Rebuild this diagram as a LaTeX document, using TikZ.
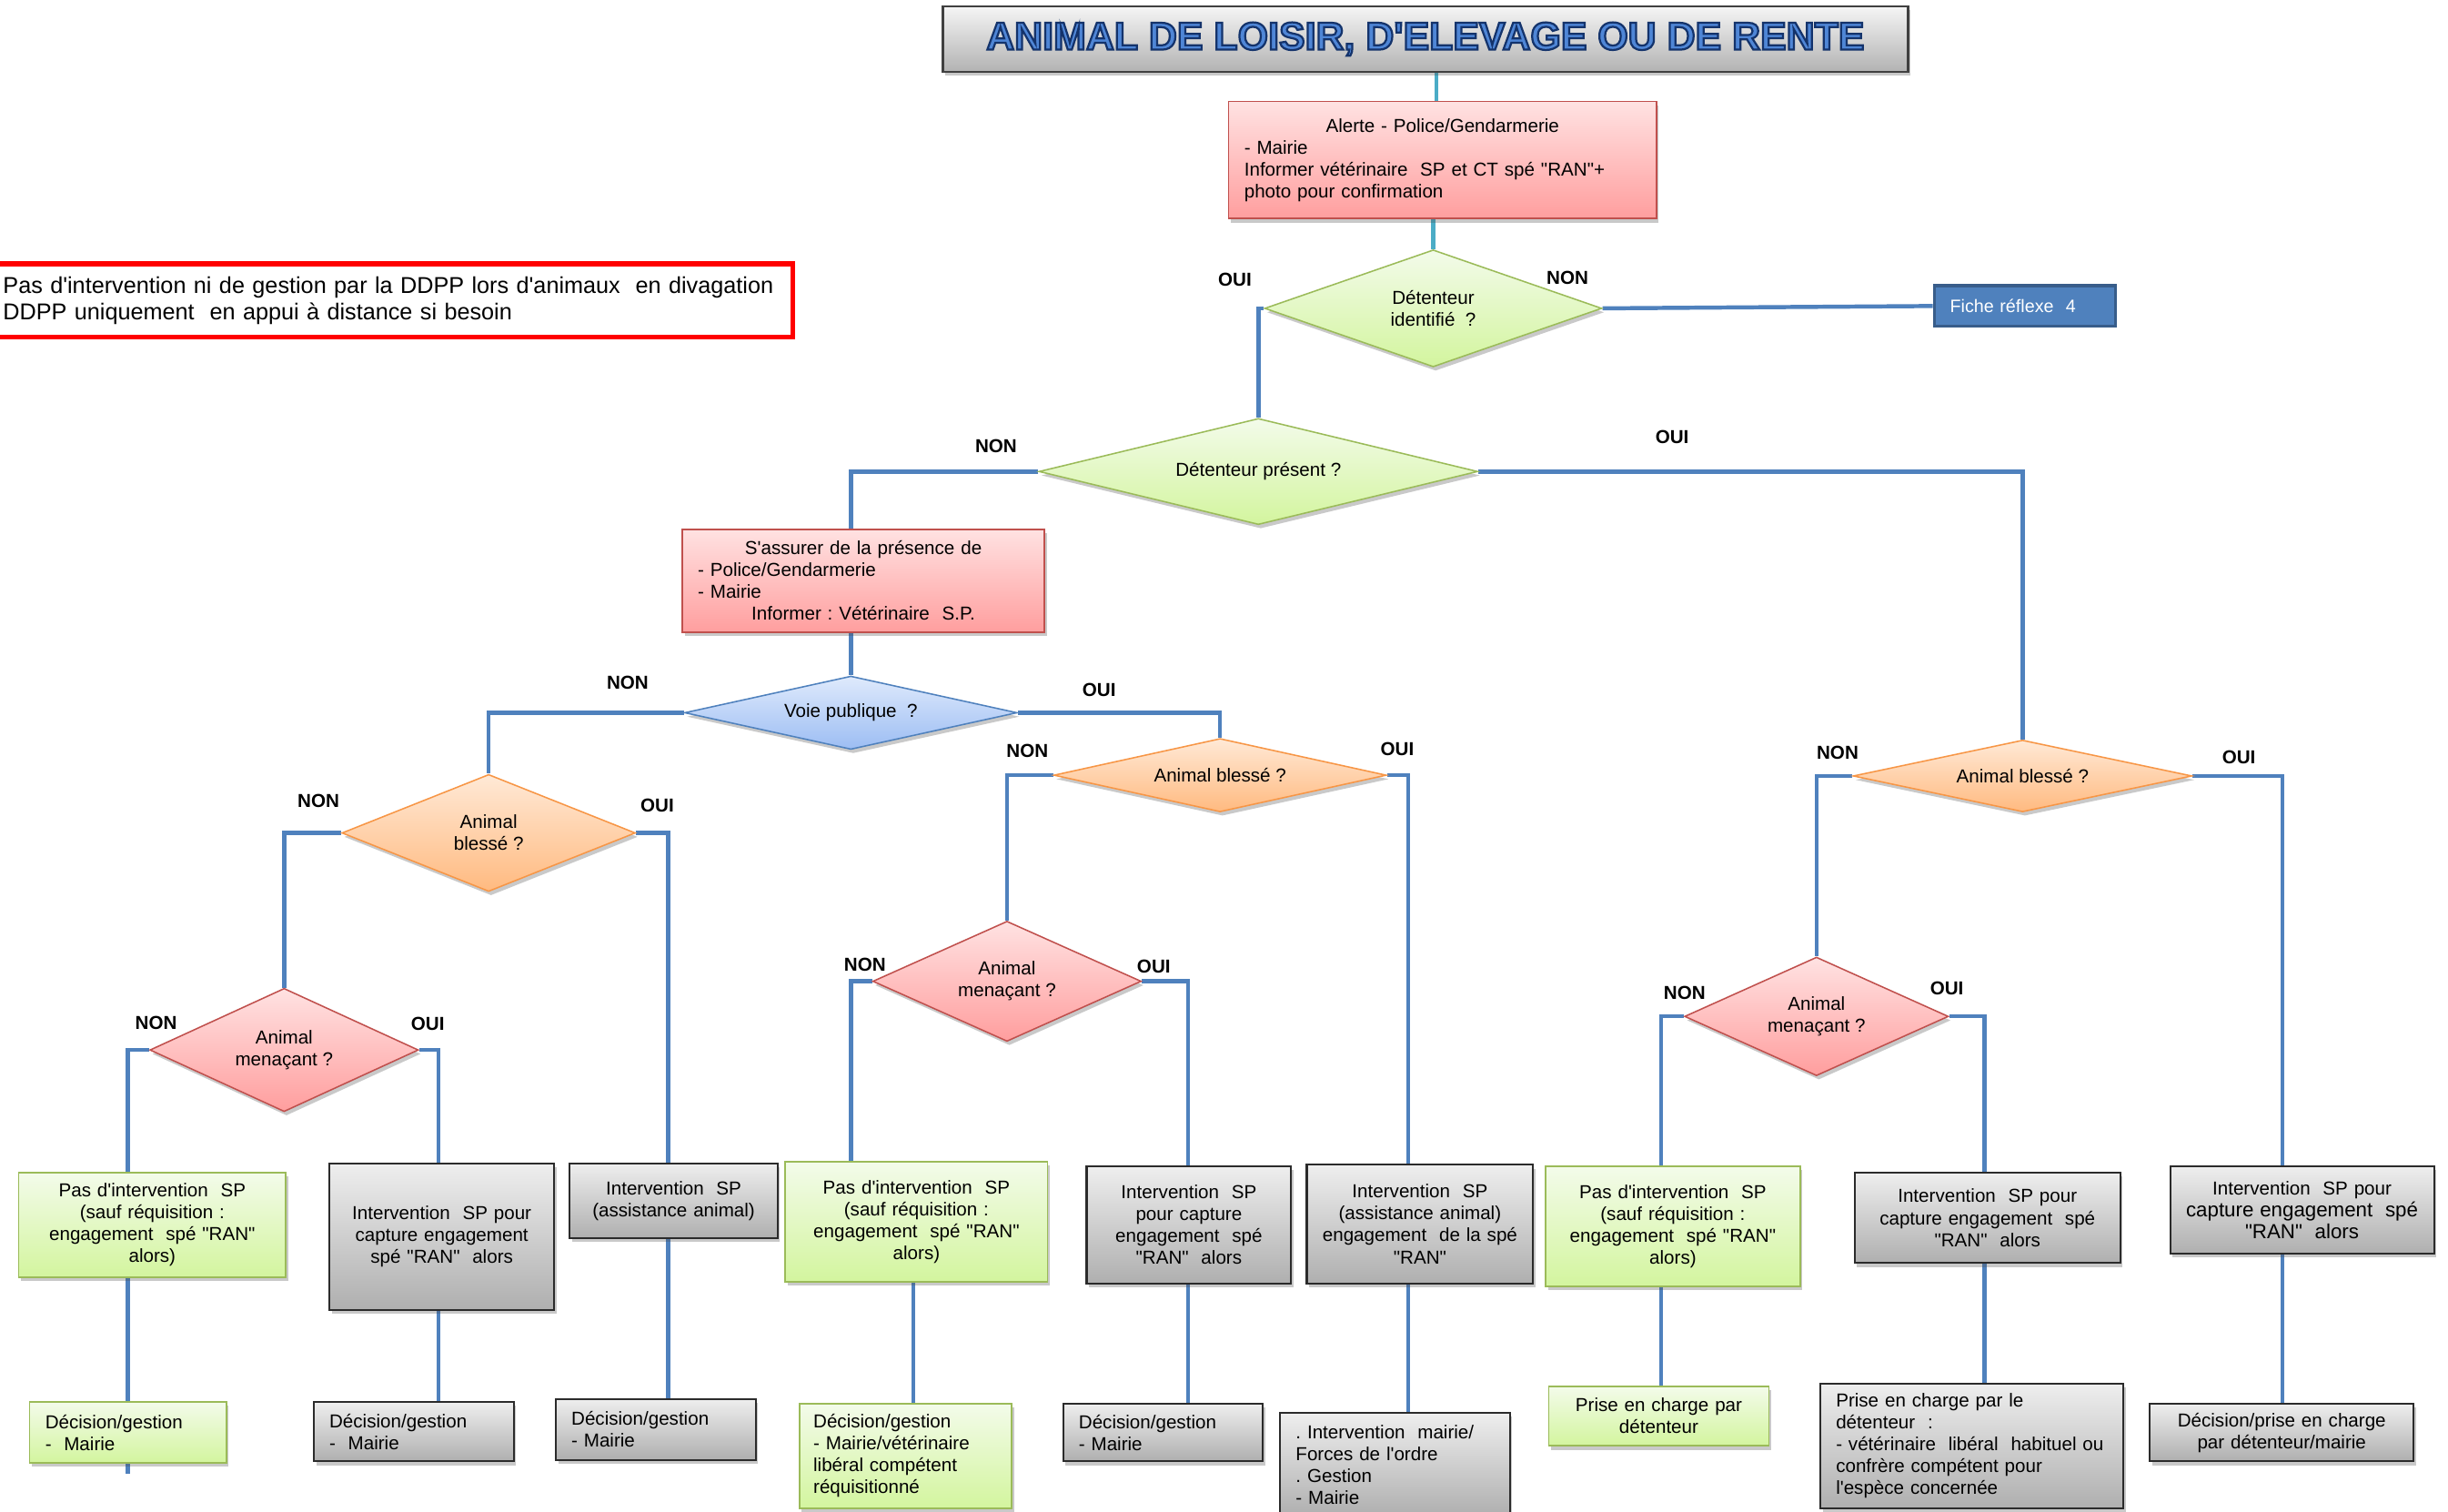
\documentclass[tikz,border=0pt]{standalone}
\usepackage{fontspec}
\defaultfontfeatures[\rmfamily]{}
\setmainfont{Liberation Sans}
\usetikzlibrary{shapes.geometric,shadows,backgrounds}
\frenchspacing
\definecolor{cLine}{HTML}{4F81BD}
\definecolor{cTeal}{HTML}{4BACC6}
\definecolor{cPinkT}{HTML}{FFE2E2}
\definecolor{cPinkB}{HTML}{FF9E9E}
\definecolor{cRedB}{HTML}{C0504D}
\definecolor{cGreenT}{HTML}{F3FBEA}
\definecolor{cGreenB}{HTML}{D3F59E}
\definecolor{cGreenD}{HTML}{9BBB59}
\definecolor{cGrayT}{HTML}{EEEEEE}
\definecolor{cGrayB}{HTML}{AFAFAF}
\definecolor{cGrayD}{HTML}{2B2B2B}
\definecolor{cOrT}{HTML}{FFE9D6}
\definecolor{cOrB}{HTML}{FFBA80}
\definecolor{cOrD}{HTML}{F79646}
\definecolor{cBlT}{HTML}{DFEAFC}
\definecolor{cBlB}{HTML}{9CBDF3}
\definecolor{cBlD}{HTML}{4F81BD}
\definecolor{cFiche}{HTML}{4F81BD}
\definecolor{cFicheD}{HTML}{385D8A}
\definecolor{cTitleF}{HTML}{4F86D6}
\definecolor{cNote}{HTML}{FF0000}
\newcommand\titletxt[1]{\special{pdf:literal direct 2 Tr 1.3 w 0.08 0.2 0.42 RG}#1\special{pdf:literal direct 0 Tr 0.4 w 0 0 0 RG}}
\begin{document}
\begin{tikzpicture}[x=1pt,y=-1pt,
  body/.style={font=\fontsize{12}{14}\selectfont},
  shad/.style={drop shadow={shadow xshift=1.5pt,shadow yshift=-2.5pt,opacity=0.3,fill=black!70}},
  box/.style={rectangle,inner sep=0pt,body,shad},
  pinkbox/.style={box,draw=cRedB,line width=0.9pt,top color=cPinkT,bottom color=cPinkB},
  greenbox/.style={box,draw=cGreenD,line width=1pt,top color=cGreenT,bottom color=cGreenB},
  graybox/.style={box,draw=cGrayD,line width=1.2pt,top color=cGrayT,bottom color=cGrayB},
  dia/.style={diamond,inner sep=0pt,align=center,body,shad},
  greendia/.style={dia,draw=cGreenD,line width=0.9pt,top color=cGreenT,bottom color=cGreenB},
  bluedia/.style={dia,draw=cBlD,line width=0.9pt,top color=cBlT,bottom color=cBlB},
  ordia/.style={dia,draw=cOrD,line width=0.9pt,top color=cOrT,bottom color=cOrB},
  pinkdia/.style={dia,draw=cRedB,line width=0.9pt,top color=cPinkT,bottom color=cPinkB},
  conn/.style={draw=cLine,line width=2.6pt},
  tealconn/.style={draw=cTeal,line width=2.6pt},
  yn/.style={font=\bfseries\fontsize{12}{14}\selectfont},
  sz/.style 2 args={minimum width=#1pt,minimum height=#2pt}
]
\useasboundingbox (0,0) rectangle (1568,968);

% --- column coordinates
\coordinate (kt) at (920,0);
\coordinate (kS) at (545,0);
\coordinate (k1) at (82,0);
\coordinate (k2) at (281,0);
\coordinate (k3) at (428,0);
\coordinate (k4) at (545,0);
\coordinate (k4b) at (585,0);
\coordinate (k5) at (761,0);
\coordinate (k6) at (902,0);
\coordinate (k7) at (1064,0);
\coordinate (k8) at (1271,0);
\coordinate (k9) at (1462,0);
\coordinate (e1) at (82,944);

% --- top
\node[pinkbox,sz={274}{75},text width=254pt,align=left] (AL) at (924,102.5)
 {\hbox to\hsize{\hss Alerte - Police/Gendarmerie\hss}\\- Mairie\\Informer vétérinaire\ \ SP et CT spé "RAN"+\\photo pour confirmation};
\node[greendia,sz={216}{75},shape aspect=2.9] (d1) at (918,197.5) {Détenteur\\identifié\ \ ?};
\node[rectangle,draw=cFicheD,line width=2pt,fill=cFiche,sz={116}{26},inner sep=0pt,text width=96pt,align=left,text=white,font=\fontsize{11.5}{13}\selectfont] (F) at (1297,196) {Fiche réflexe\ \ 4};
\node[greendia,sz={281}{68},shape aspect=4.1] (d2) at (806,302) {Détenteur présent ?};
\node[pinkbox,sz={232}{66},text width=212pt,align=left] (S) at (553,372)
 {\hbox to\hsize{\hss S'assurer de la présence de\hss}\\- Police/Gendarmerie\\- Mairie\\\hbox to\hsize{\hss Informer : Vétérinaire\ \ S.P.\hss}};
\node[bluedia,sz={213}{47},shape aspect=4.5] (vp) at (545,456.5) {Voie publique\ \ ?};

% --- note
\node[rectangle,draw=cNote,line width=3pt,fill=white,sz={511}{47},inner sep=0pt,text width=501pt,align=left,font=\fontsize{14.7}{17}\selectfont] (NB) at (252.5,192.5)
 {Pas d'intervention ni de gestion par la DDPP lors d'animaux\ \ en divagation\\DDPP uniquement\ \ en appui à distance si besoin};

% --- diamonds
\node[ordia,sz={188}{75},shape aspect=2.5] (bL) at (313,533.5) {Animal\\blessé ?};
\node[pinkdia,sz={172}{79},shape aspect=2.2] (mL) at (182,672.5) {Animal\\menaçant ?};
\node[ordia,sz={213}{47},shape aspect=4.5] (bM) at (781.5,496.5) {Animal blessé ?};
\node[pinkdia,sz={172}{77},shape aspect=2.2] (mM) at (645,628.5) {Animal\\menaçant ?};
\node[ordia,sz={217}{46},shape aspect=4.7] (bR) at (1295.5,497) {Animal blessé ?};
\node[pinkdia,sz={169}{76},shape aspect=2.2] (mR) at (1163.5,651) {Animal\\menaçant ?};

% --- action boxes
\node[greenbox,sz={171}{67},text width=160pt,align=center] (A1) at (97.5,784.5)
 {Pas d'intervention\ \ SP\\(sauf réquisition :\\engagement\ \ spé "RAN"\\alors)};
\node[graybox,sz={144}{94},text width=136pt,align=center] (A2) at (283,792)
 {Intervention\ \ SP pour\\capture engagement\\spé "RAN"\ \ alors};
\node[graybox,sz={133}{48},text width=125pt,align=center] (A3) at (431.5,769)
 {Intervention\ \ SP\\(assistance animal)};
\node[greenbox,sz={168}{77},text width=158pt,align=center] (A4) at (587,782.5)
 {Pas d'intervention\ \ SP\\(sauf réquisition :\\engagement\ \ spé "RAN"\\alors)};
\node[graybox,sz={131}{75},text width=123pt,align=center] (A5) at (761.5,784.5)
 {Intervention\ \ SP\\pour capture\\engagement\ \ spé\\"RAN"\ \ alors};
\node[graybox,sz={145}{76},text width=137pt,align=center] (A6) at (909.5,784)
 {Intervention\ \ SP\\(assistance animal)\\engagement\ \ de la spé\\"RAN"};
\node[greenbox,sz={163}{77},text width=155pt,align=center] (A7) at (1071.5,785.5)
 {Pas d'intervention\ \ SP\\(sauf réquisition :\\engagement\ \ spé "RAN"\\alors)};
\node[graybox,sz={170}{58},text width=162pt,align=center] (A8) at (1273,780)
 {Intervention\ \ SP pour\\capture engagement\ \ spé\\"RAN"\ \ alors};
\node[graybox,sz={169}{56},text width=163pt,align=center] (A9) at (1474.5,775)
 {Intervention\ \ SP pour\\{\fontsize{13}{15}\selectfont capture engagement\ \ spé}\\{\fontsize{13}{15}\selectfont "RAN"\ \ alors}};

% --- result boxes
\node[greenbox,sz={126}{39},text width=106pt,align=left] (B1) at (82,917.5) {Décision/gestion\\-\ \ Mairie};
\node[graybox,sz={128}{38},text width=108pt,align=left] (B2) at (265,917) {Décision/gestion\\-\ \ Mairie};
\node[graybox,sz={128}{39},text width=108pt,align=left] (B3) at (420,915.5) {Décision/gestion\\- Mairie};
\node[greenbox,sz={136}{67},text width=118pt,align=left] (B4) at (580,932.5)
 {Décision/gestion\\- Mairie/vétérinaire\\libéral compétent\\réquisitionné};
\node[graybox,sz={128}{37},text width=108pt,align=left] (B5) at (745,917.5) {Décision/gestion\\- Mairie};
\node[graybox,sz={147}{66},text width=127pt,align=left] (B6) at (893.5,938)
 {. Intervention\ \ mairie/\\Forces de l'ordre\\. Gestion\\- Mairie};
\node[greenbox,sz={141}{38},text width=135pt,align=center] (B7) at (1062.5,907) {Prise en charge par\\détenteur};
\node[graybox,sz={194}{80},text width=174pt,align=left] (B8) at (1263,926)
 {Prise en charge par le\\détenteur\ \ :\\- vétérinaire\ \ libéral\ \ habituel ou\\confrère compétent pour\\l'espèce concernée};
\node[graybox,sz={169}{37},text width=163pt,align=center] (B9) at (1461.5,917.5) {Décision/prise en charge\\par détenteur/mairie};

% --- title (last)
\node[rectangle,draw=black!75,line width=1.5pt,top color=black!4,bottom color=black!30,sz={618}{42},inner sep=0pt,shad,text=cTitleF,font=\bfseries\fontsize{25}{29}\selectfont] (T) at (913,25)
 {\titletxt{ANIMAL DE LOISIR, D'ELEVAGE OU DE RENTE}};

% --- connectors
\begin{scope}[on background layer]
\draw[tealconn] (kt |- T.south) -- (kt |- AL.north);
\draw[tealconn] (d1.north |- AL.south) -- (d1.north);
\draw[conn] (d1.west) -| (d2.north);
\draw[conn] (d1.east) -- (F.west);
\draw[conn] (d2.west) -| (kS |- S.north);
\draw[conn] (d2.east) -| (bR.north);
\draw[conn] (kS |- S.south) -- (vp.north);
\draw[conn] (vp.west) -| (bL.north);
\draw[conn] (vp.east) -| (bM.north);
\draw[conn] (bL.west) -| (mL.north);
\draw[conn] (bL.east) -| (k3 |- A3.north);
\draw[conn] (mL.west) -| (k1 |- A1.north);
\draw[conn] (mL.east) -| (k2 |- A2.north);
\draw[conn] (k1 |- A1.south) -- (e1);
\draw[conn] (k2 |- A2.south) -- (k2 |- B2.north);
\draw[conn] (k3 |- A3.south) -- (k3 |- B3.north);
\draw[conn] (bM.west) -| (mM.north);
\draw[conn] (bM.east) -| (k6 |- A6.north);
\draw[conn] (mM.west) -| (k4 |- A4.north);
\draw[conn] (mM.east) -| (k5 |- A5.north);
\draw[conn] (k4b |- A4.south) -- (k4b |- B4.north);
\draw[conn] (k5 |- A5.south) -- (k5 |- B5.north);
\draw[conn] (k6 |- A6.south) -- (k6 |- B6.north);
\draw[conn] (bR.west) -| (mR.north);
\draw[conn] (bR.east) -| (k9 |- A9.north);
\draw[conn] (mR.west) -| (k7 |- A7.north);
\draw[conn] (mR.east) -| (k8 |- A8.north);
\draw[conn] (k7 |- A7.south) -- (k7 |- B7.north);
\draw[conn] (k8 |- A8.south) -- (k8 |- B8.north);
\draw[conn] (k9 |- A9.south) -- (k9 |- B9.north);
\end{scope}

% --- labels
\node[yn] (l1) at (791,179) {OUI};
\node[yn] (l2) at (1004,178) {NON};
\node[yn] (l3) at (638,286) {NON};
\node[yn] (l4) at (1071,280) {OUI};
\node[yn] (l5) at (402,437) {NON};
\node[yn] (l6) at (704,442) {OUI};
\node[yn] (l7) at (204,513) {NON};
\node[yn] (l8) at (421,516) {OUI};
\node[yn] (l9) at (100,655) {NON};
\node[yn] (l10) at (274,656) {OUI};
\node[yn] (l11) at (658,481) {NON};
\node[yn] (l12) at (895,480) {OUI};
\node[yn] (l13) at (554,618) {NON};
\node[yn] (l14) at (739,619) {OUI};
\node[yn] (l15) at (1177,482) {NON};
\node[yn] (l16) at (1434,485) {OUI};
\node[yn] (l17) at (1079,636) {NON};
\node[yn] (l18) at (1247,633) {OUI};
\end{tikzpicture}
\end{document}
